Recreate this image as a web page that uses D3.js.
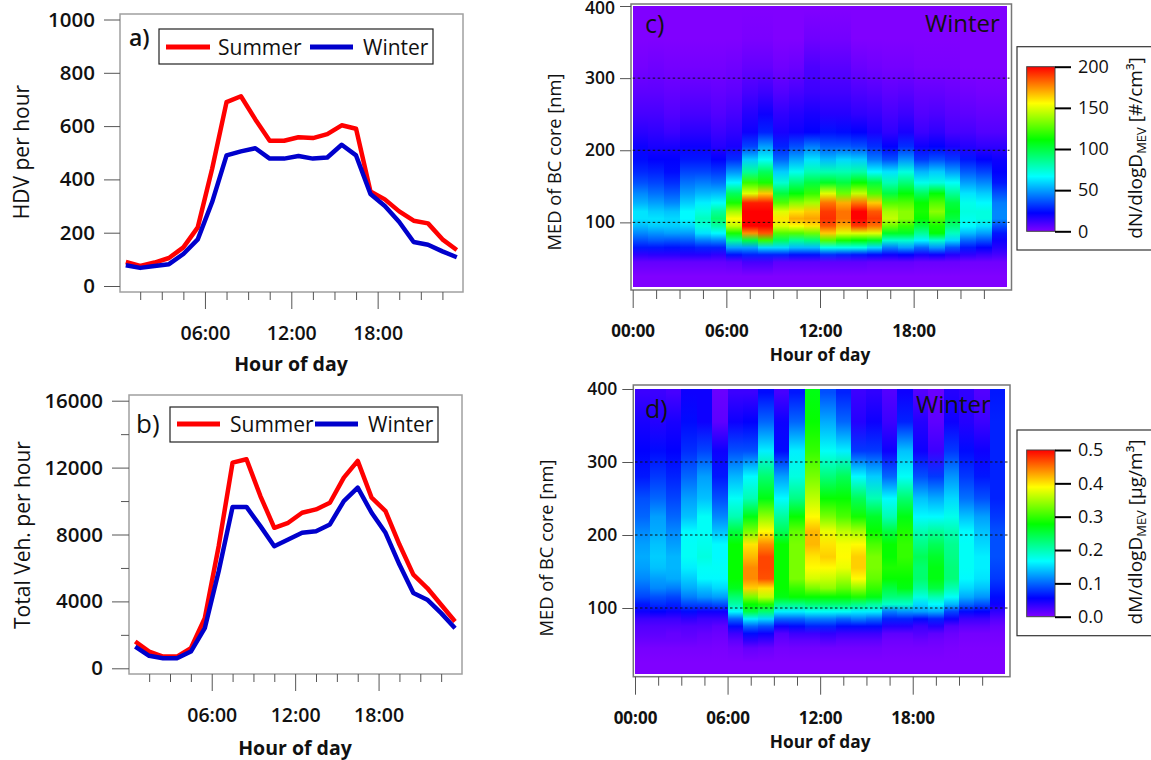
<!DOCTYPE html>
<html>
<head>
<meta charset="utf-8">
<script src="https://cdn.jsdelivr.net/npm/d3@7"></script>
<style>
  html, body { margin: 0; padding: 0; background: #fff; overflow: hidden; }
  svg { display: block; font-family: "Open Sans", sans-serif; }
</style>
</head>
<body>
<div id="vis"></div>
<script>
// Traffic diurnal cycles (a, b) and BC core size distributions in winter (c, d).

const HOURS = [0.5,1.5,2.5,3.5,4.5,5.5,6.5,7.5,8.5,9.5,10.5,11.5,12.5,13.5,14.5,15.5,16.5,17.5,18.5,19.5,20.5,21.5,22.5,23.5];

const HDV_SUMMER = [90,75,88,105,145,220,440,690,712,625,545,545,558,555,570,603,590,355,325,280,245,235,175,135];
const HDV_WINTER = [78,68,75,82,120,175,315,490,505,517,478,478,488,478,482,530,490,345,300,240,165,155,130,108];
const VEH_SUMMER = [1600,1000,700,700,1200,3000,7300,12300,12500,10300,8400,8700,9300,9500,9900,11400,12400,10200,9400,7400,5600,4800,3800,2800];
const VEH_WINTER = [1300,750,600,600,1000,2400,5800,9650,9650,8500,7300,7700,8100,8200,8600,10000,10800,9300,8100,6200,4500,4100,3300,2400];

const HOUR_TICKS = [6, 12, 18];
const MINOR_HOURS = [1.5,3,4.5,7.5,9,10.5,13.5,15,16.5,19.5,21,22.5];

// MED bin centres [nm], one value per bin in every column below
const MED_BINS = [25,45,55,65,75,85,95,105,115,127,140,155,170,187,205,225,250,280,315,355,395];

// dN/dlogD per hour column
const NUMBER_COLS = [
  [0,5,14,26,36,46,55,62,62,53,46,36,29,24,20,15,10,6,2,0,0],
  [0,5,15,26,38,48,58,62,58,50,42,34,28,22,18,14,10,6,3,0,0],
  [0,5,15,25,37,50,58,60,56,46,38,30,24,22,18,12,8,5,2,0,0],
  [0,5,16,26,38,50,60,66,66,58,50,42,34,26,20,15,10,6,2,0,0],
  [0,5,16,28,44,62,72,78,72,64,54,44,34,26,20,15,10,6,2,0,0],
  [0,5,14,28,46,66,82,92,84,68,55,42,32,22,16,12,8,5,2,0,0],
  [0,6,25,50,85,115,145,155,140,115,95,66,48,30,18,14,10,6,3,0,0],
  [0,10,28,50,100,175,210,215,215,195,150,120,85,58,34,20,16,10,5,1,0],
  [0,10,28,60,120,185,210,215,210,195,165,115,95,68,50,28,20,12,5,1,0],
  [0,6,28,60,95,125,150,160,150,125,100,75,58,40,28,18,14,8,3,0,0],
  [0,6,25,55,85,125,155,170,160,135,110,90,70,52,36,20,16,10,4,0,0],
  [0,6,25,55,90,130,160,172,165,140,120,100,80,62,44,22,18,12,9,3,0],
  [0,6,30,70,125,165,185,192,190,180,150,105,80,55,38,25,16,11,7,2,0],
  [0,6,28,70,115,150,170,180,180,170,130,100,80,60,38,24,16,11,7,2,0],
  [0,6,26,70,110,150,190,205,205,180,145,112,82,58,36,22,14,9,4,0,0],
  [0,5,24,60,105,150,180,190,185,165,125,100,66,44,30,18,13,8,3,0,0],
  [0,5,20,44,75,105,130,145,140,125,100,80,62,36,22,14,10,6,2,0,0],
  [0,5,22,50,75,105,120,135,135,125,110,90,72,48,30,18,12,7,2,0,0],
  [0,4,18,40,65,85,100,112,115,112,95,70,54,32,20,12,8,5,1,0,0],
  [0,4,20,48,75,110,115,125,135,125,110,72,58,36,22,14,9,5,1,0,0],
  [0,4,16,36,60,78,90,100,105,100,85,68,50,32,18,10,7,4,1,0,0],
  [0,3,14,26,40,55,66,70,72,70,62,50,38,26,16,10,6,3,0,0,0],
  [0,3,12,22,36,50,62,72,72,66,58,46,34,22,14,8,5,2,0,0,0],
  [0,3,10,16,20,26,36,46,46,44,36,26,22,20,14,8,5,2,0,0,0],
];

// dM/dlogD per hour column
const MASS_COLS = [
  [0,.004,.01,.015,.02,.03,.05,.065,.085,.10,.115,.125,.13,.125,.115,.10,.09,.065,.055,.045,.03],
  [0,.004,.01,.015,.02,.03,.055,.075,.09,.115,.125,.14,.145,.14,.13,.125,.10,.08,.06,.04,.03],
  [0,.004,.01,.012,.02,.03,.05,.07,.085,.11,.13,.135,.135,.125,.115,.10,.085,.07,.055,.045,.025],
  [0,.004,.01,.015,.02,.035,.06,.085,.11,.13,.145,.16,.17,.17,.165,.14,.125,.10,.075,.06,.05],
  [0,.004,.008,.012,.02,.03,.05,.085,.12,.14,.165,.17,.18,.175,.17,.17,.14,.125,.085,.05,.05],
  [0,.003,.006,.01,.015,.03,.05,.09,.125,.15,.165,.17,.165,.165,.14,.115,.09,.065,.05,.015,.01],
  [0,.006,.015,.03,.06,.10,.165,.205,.23,.265,.28,.28,.28,.28,.25,.20,.17,.135,.09,.05,.03],
  [0,.012,.035,.06,.10,.16,.25,.28,.33,.41,.44,.44,.42,.40,.33,.27,.20,.165,.09,.055,.03],
  [0,.01,.03,.05,.09,.15,.23,.29,.36,.40,.465,.47,.47,.44,.39,.34,.27,.23,.16,.10,.06],
  [0,.005,.012,.02,.05,.10,.16,.22,.27,.28,.28,.28,.28,.28,.24,.21,.165,.125,.06,.05,.025],
  [0,.006,.015,.03,.06,.10,.16,.22,.28,.30,.33,.33,.33,.33,.32,.28,.22,.18,.16,.10,.065],
  [0,.006,.015,.03,.07,.11,.17,.23,.28,.33,.37,.39,.40,.42,.42,.39,.36,.33,.30,.28,.27],
  [0,.006,.02,.035,.07,.11,.17,.23,.28,.34,.365,.39,.41,.40,.38,.33,.28,.225,.17,.13,.09],
  [0,.006,.015,.03,.06,.10,.17,.23,.28,.32,.35,.38,.39,.385,.36,.31,.28,.24,.16,.10,.07],
  [0,.006,.015,.03,.06,.11,.16,.22,.29,.34,.39,.41,.41,.39,.35,.285,.24,.165,.08,.04,.03],
  [0,.006,.015,.03,.06,.10,.16,.21,.27,.30,.32,.33,.33,.31,.28,.26,.20,.145,.08,.05,.035],
  [0,.004,.008,.015,.04,.07,.11,.19,.225,.25,.28,.29,.28,.28,.25,.20,.165,.10,.05,.03,.02],
  [0,.004,.008,.015,.04,.07,.12,.19,.225,.27,.28,.29,.30,.30,.29,.27,.23,.17,.14,.07,.05],
  [0,.004,.01,.02,.03,.06,.125,.15,.18,.21,.23,.23,.24,.22,.20,.165,.14,.09,.05,.04,.02],
  [0,.004,.008,.015,.04,.07,.13,.165,.20,.25,.27,.27,.26,.24,.21,.165,.13,.08,.03,.015,.01],
  [0,.002,.005,.01,.02,.05,.085,.135,.17,.20,.225,.225,.22,.215,.20,.175,.15,.12,.08,.05,.04],
  [0,.001,.003,.005,.015,.03,.06,.10,.13,.15,.165,.17,.17,.17,.165,.14,.105,.08,.06,.04,.035],
  [0,.001,.003,.005,.015,.03,.055,.09,.12,.14,.155,.16,.16,.15,.14,.125,.09,.065,.05,.03,.02],
  [0,.001,.003,.005,.01,.02,.035,.05,.06,.07,.08,.085,.09,.09,.09,.08,.07,.07,.07,.07,.065],
];

const RAINBOW = ["#8000ff", "#0000ff", "#00ffff", "#00ff00", "#ffff00", "#ff0000"];
const RAINBOW_POS = [0, 1/9, 1/3, 5/9, 7/9, 1];

const NUMBER_TICKS = [0, 50, 100, 150, 200];
const MASS_TICKS = [0, 0.1, 0.2, 0.3, 0.4, 0.5];
const MED_TICKS = [100, 200, 300, 400];

const svg = d3.select("#vis").append("svg").attr("width", 1151).attr("height", 760);
const defs = svg.append("defs");

function styleAxis(ax, size, weight) {
  ax.select(".domain").remove();
  ax.selectAll(".tick line").attr("stroke", "#555");
  ax.selectAll("text")
    .style("font-size", size + "px")
    .style("font-weight", weight)
    .style("font-family", "'Open Sans', sans-serif")
    .attr("fill", "#111");
}

function addText(x, y, str, size, opts = {}) {
  return svg.append("text")
    .attr("transform", `translate(${x},${y})` + (opts.rotate ? ` rotate(${opts.rotate})` : ""))
    .attr("text-anchor", opts.anchor || "start")
    .style("font-size", size + "px")
    .style("font-weight", opts.weight || 400)
    .attr("fill", "#111")
    .text(str);
}

// ── Line panels ─────────────────────────────────────────────────────────────

function linePanel(p) {
  const x = d3.scaleLinear().domain([0, 24]).range(p.xRange);
  const y = d3.scaleLinear().domain(p.yDomain).range(p.yRange);

  svg.append("rect")
    .attr("x", p.frame[0]).attr("y", p.frame[1])
    .attr("width", p.frame[2] - p.frame[0]).attr("height", p.frame[3] - p.frame[1])
    .attr("fill", "none").attr("stroke", "#a0a0a0").attr("stroke-width", 1.5);

  svg.append("g").attr("transform", `translate(${p.frame[0]},0)`)
    .call(d3.axisLeft(y).tickValues(p.yTicks).tickSize(p.tickLen).tickPadding(9).tickFormat(d3.format("d")))
    .call(ax => styleAxis(ax, 20.5, 600));

  if (p.yMinor) {
    svg.append("g").attr("transform", `translate(${p.frame[0]},0)`)
      .call(d3.axisLeft(y).tickValues(p.yMinor).tickSize(8).tickFormat(""))
      .call(ax => styleAxis(ax, 10, 400));
  }

  svg.append("g").attr("transform", `translate(0,${p.frame[3]})`)
    .call(d3.axisBottom(x).tickValues(HOUR_TICKS).tickSize(17).tickPadding(17)
      .tickFormat(h => d3.format("02")(h) + ":00"))
    .call(ax => styleAxis(ax, 19.5, 600));

  svg.append("g").attr("transform", `translate(0,${p.frame[3]})`)
    .call(d3.axisBottom(x).tickValues(MINOR_HOURS).tickSize(8).tickFormat(""))
    .call(ax => styleAxis(ax, 10, 400));

  const line = d3.line().x((d, i) => x(HOURS[i])).y(d => y(d));
  p.series.forEach(s => {
    svg.append("path").datum(s.values)
      .attr("d", line)
      .attr("fill", "none")
      .attr("stroke", s.color)
      .attr("stroke-width", 4.5)
      .attr("stroke-linejoin", "round");
  });

  addText(p.ylabel.x, p.ylabel.y, p.ylabel.text, 21, { rotate: -90, anchor: "middle" });
  addText(p.xlabel[0], p.xlabel[1], "Hour of day", 19.5, { anchor: "middle", weight: 700 });
  addText(p.letter.x, p.letter.y, p.letter.text, p.letter.size, { weight: p.letter.weight });

  const lg = p.legend;
  svg.append("rect")
    .attr("x", lg.box[0]).attr("y", lg.box[1])
    .attr("width", lg.box[2] - lg.box[0]).attr("height", lg.box[3] - lg.box[1])
    .attr("fill", "#fff").attr("stroke", "#222").attr("stroke-width", 1.2);
  p.series.forEach((s, i) => {
    svg.append("line")
      .attr("x1", lg.lines[i][0]).attr("x2", lg.lines[i][1])
      .attr("y1", lg.lineY).attr("y2", lg.lineY)
      .attr("stroke", s.color).attr("stroke-width", 5);
    addText(lg.texts[i], lg.baseline, s.name, 21);
  });
}

linePanel({
  frame: [120, 14, 463, 292], xRange: [118.6, 464], yRange: [286, 19.5],
  yDomain: [0, 1000], yTicks: [0, 200, 400, 600, 800, 1000], tickLen: 16,
  series: [
    { name: "Summer", color: "#ff0000", values: HDV_SUMMER },
    { name: "Winter", color: "#0000cc", values: HDV_WINTER },
  ],
  ylabel: { x: 29, y: 152, text: "HDV per hour" },
  xlabel: [291, 371],
  letter: { x: 129, y: 46, text: "a)", size: 23, weight: 600 },
  legend: { box: [159, 29, 433, 64], lines: [[166, 210], [310, 353]], lineY: 47, texts: [218, 363], baseline: 54.5 },
});

linePanel({
  frame: [129, 395, 462, 674], xRange: [128.3, 462], yRange: [668.3, 400.7],
  yDomain: [0, 16000], yTicks: [0, 4000, 8000, 12000, 16000], yMinor: [2000, 6000, 10000, 14000], tickLen: 17,
  series: [
    { name: "Summer", color: "#ff0000", values: VEH_SUMMER },
    { name: "Winter", color: "#0000cc", values: VEH_WINTER },
  ],
  ylabel: { x: 30, y: 535, text: "Total Veh. per hour" },
  xlabel: [295, 755],
  letter: { x: 136, y: 433, text: "b)", size: 26, weight: 400 },
  legend: { box: [170, 407, 438, 442], lines: [[177, 220], [315, 358]], lineY: 424, texts: [230, 368], baseline: 432 },
});

// ── Heat panels ─────────────────────────────────────────────────────────────

function heatPanel(p) {
  const color = d3.scaleLinear()
    .domain(RAINBOW_POS.map(t => t * p.vmax))
    .range(RAINBOW)
    .clamp(true);

  const [px0, py0, px1, py1] = p.plot;
  const x = d3.scaleLinear().domain([0, 24]).range([px0, px1]);
  const y = d3.scaleLinear().domain([10, 400]).range([py1, py0]);

  svg.append("rect")
    .attr("x", p.frame[0]).attr("y", p.frame[1])
    .attr("width", p.frame[2] - p.frame[0]).attr("height", p.frame[3] - p.frame[1])
    .attr("fill", "#fff").attr("stroke", "#777").attr("stroke-width", 1.5);

  // one vertical gradient per hour column, a stop per MED bin
  p.cols.forEach((col, i) => {
    const grad = defs.append("linearGradient")
      .attr("id", `${p.id}-col-${i}`)
      .attr("gradientUnits", "userSpaceOnUse")
      .attr("x1", 0).attr("x2", 0)
      .attr("y1", y(10)).attr("y2", y(400));
    col.forEach((v, j) => {
      grad.append("stop")
        .attr("offset", (MED_BINS[j] - 10) / 390)
        .attr("stop-color", color(v));
    });
  });

  svg.append("g").selectAll("rect")
    .data(p.cols)
    .join("rect")
      .attr("x", (d, i) => x(i))
      .attr("y", y(400))
      .attr("width", (d, i) => x(i + 1) - x(i))
      .attr("height", y(10) - y(400))
      .attr("shape-rendering", "crispEdges")
      .attr("fill", (d, i) => `url(#${p.id}-col-${i})`);

  [100, 200, 300].forEach(v => {
    svg.append("line")
      .attr("x1", px0).attr("x2", p.frame[2] - 2)
      .attr("y1", y(v)).attr("y2", y(v))
      .attr("stroke", "#111").attr("stroke-width", 1)
      .attr("stroke-dasharray", "2.5,2.5");
  });

  svg.append("g").attr("transform", `translate(${p.frame[0]},0)`)
    .call(d3.axisLeft(y).tickValues(MED_TICKS).tickSize(11).tickPadding(5).tickFormat(d3.format("d")))
    .call(ax => styleAxis(ax, 17.5, 600))
    // the top label sits at the page edge in panel c, nudge it so the digits stay whole
    .call(ax => ax.selectAll(".tick text").filter(d => d === 400 && y(d) < 12).attr("dy", ".45em"));

  svg.append("g").attr("transform", `translate(0,${p.frame[3]})`)
    .call(d3.axisBottom(x).tickValues([0, ...HOUR_TICKS]).tickSize(18).tickPadding(17)
      .tickFormat(h => d3.format("02")(h) + ":00"))
    .call(ax => styleAxis(ax, 17, 700));

  svg.append("g").attr("transform", `translate(0,${p.frame[3]})`)
    .call(d3.axisBottom(x).tickValues(MINOR_HOURS).tickSize(9).tickFormat(""))
    .call(ax => styleAxis(ax, 10, 400));

  addText(p.ylabel[0], p.ylabel[1], "MED of BC core [nm]", 18.3, { rotate: -90, anchor: "middle" });
  addText((px0 + px1) / 2, p.frame[3] + 71, "Hour of day", 17.3, { anchor: "middle", weight: 700 });
  addText(p.letter[0], p.letter[1], p.letter[2], 25, {});
  addText(p.winter[0], p.winter[1], "Winter", 24, {});

  // colour bar
  const cb = p.bar;
  svg.append("rect")
    .attr("x", 1017).attr("y", cb.box[0])
    .attr("width", 160).attr("height", cb.box[1] - cb.box[0])
    .attr("fill", "#fff").attr("stroke", "#333").attr("stroke-width", 1.2);

  const gradBar = defs.append("linearGradient")
    .attr("id", `${p.id}-bar`)
    .attr("x1", 0).attr("x2", 0).attr("y1", 1).attr("y2", 0);
  RAINBOW_POS.forEach((t, i) => {
    gradBar.append("stop").attr("offset", t).attr("stop-color", RAINBOW[i]);
  });

  svg.append("rect")
    .attr("x", 1026.7).attr("y", cb.y[1])
    .attr("width", 28.3).attr("height", cb.y[0] - cb.y[1])
    .attr("fill", `url(#${p.id}-bar)`)
    .attr("stroke", "#444").attr("stroke-width", 1);

  const cy = d3.scaleLinear().domain([0, p.vmax]).range(cb.y);
  svg.append("g").attr("transform", "translate(1055,0)")
    .call(d3.axisRight(cy).tickValues(p.barTicks).tickSize(16).tickPadding(7).tickFormat(p.barFormat))
    .call(ax => styleAxis(ax, 18, 400))
    .call(ax => ax.selectAll(".tick line").attr("stroke", "#000").attr("stroke-width", 2));

  const title = svg.append("text")
    .attr("transform", `translate(1142,${cb.titleY}) rotate(-90)`)
    .attr("text-anchor", "middle")
    .style("font-size", "19px")
    .attr("fill", "#111");
  title.append("tspan").text(p.barTitle[0]);
  title.append("tspan").attr("dy", 4).style("font-size", "13px").text("MEV");
  title.append("tspan").attr("dy", -4).text(p.barTitle[1]);
}

heatPanel({
  id: "number", cols: NUMBER_COLS, vmax: 200,
  plot: [632.7, 6, 1007.3, 287.3], frame: [631, 4, 1011.5, 290],
  ylabel: [561, 162], letter: [645, 33, "c)"], winter: [925, 32],
  bar: { box: [46.7, 250], y: [231.3, 66.7], titleY: 148 },
  barTicks: NUMBER_TICKS, barFormat: d3.format("d"),
  barTitle: ["dN/dlogD", " [#/cm³]"],
});

heatPanel({
  id: "mass", cols: MASS_COLS, vmax: 0.5,
  plot: [635, 389, 1005.3, 673.7], frame: [633.3, 385, 1010, 676.7],
  ylabel: [553, 548], letter: [645, 418, "d)"], winter: [916, 413],
  bar: { box: [430, 635.7], y: [616.7, 450], titleY: 532 },
  barTicks: MASS_TICKS, barFormat: d3.format(".1f"),
  barTitle: ["dM/dlogD", " [µg/m³]"],
});
</script>
</body>
</html>
